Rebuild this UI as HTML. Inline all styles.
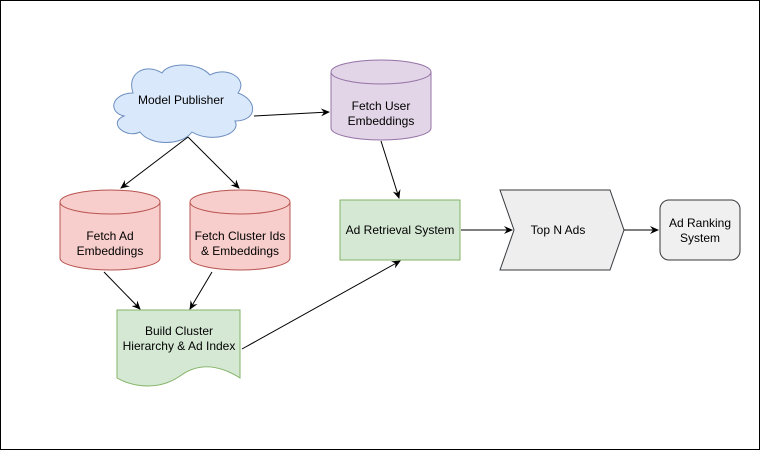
<!DOCTYPE html>
<html><head><style>body{margin:0;background:#fff}</style></head><body>
<svg width="761" height="451" xmlns="http://www.w3.org/2000/svg" font-family="Liberation Sans, sans-serif" font-size="12">
<defs><marker id="a" markerWidth="10" markerHeight="10" refX="8" refY="5" orient="auto" markerUnits="userSpaceOnUse"><path d="M0,1 L9,5 L0,9 L3,5 Z" fill="#000"/></marker></defs>
<rect x="0.5" y="0.5" width="759" height="449" fill="#fff" stroke="#000"/>
<!-- cloud -->
<path d="M133,93 C112,93 107,112 124,116 C107,123 126,139 140,132 C150,146 182,146 192,132 C212,144 242,134 235,121 C258,121 258,100 238,93 C249,78 226,66 210,75 C199,62 168,62 162,73 C147,63 126,72 133,93 Z" fill="#dae8fc" stroke="#6c8ebf"/>
<text x="181" y="104" text-anchor="middle">Model Publisher</text>
<!-- user cylinder -->
<g fill="#e1d5e7" stroke="#9673a6"><path d="M331,72 V128 A50,12 0 0 0 431,128 V72"/><ellipse cx="381" cy="72" rx="50" ry="12"/></g>
<text x="381" y="110" text-anchor="middle">Fetch User</text><text x="381" y="125" text-anchor="middle">Embeddings</text>
<!-- red cylinders -->
<g fill="#f8cecc" stroke="#b85450"><path d="M60,202 V258 A50,12 0 0 0 160,258 V202"/><ellipse cx="110" cy="202" rx="50" ry="12"/>
<path d="M190,202 V258 A50,12 0 0 0 290,258 V202"/><ellipse cx="240" cy="202" rx="50" ry="12"/></g>
<text x="110" y="240" text-anchor="middle">Fetch Ad</text><text x="110" y="255" text-anchor="middle">Embeddings</text>
<text x="240" y="240" text-anchor="middle">Fetch Cluster Ids</text><text x="240" y="255" text-anchor="middle">&amp; Embeddings</text>
<!-- ad retrieval -->
<rect x="340" y="200" width="120" height="60" fill="#d5e8d4" stroke="#82b366"/>
<text x="400" y="234" text-anchor="middle">Ad Retrieval System</text>
<!-- top n -->
<path d="M500,190 H610 L624,230 L610,270 H500 L514,230 Z" fill="#eeeeee" stroke="#36393d"/>
<text x="558" y="234" text-anchor="middle">Top N Ads</text>
<!-- ranking -->
<rect x="660" y="200" width="80" height="60" rx="9" fill="#f0f0f0" stroke="#36393d"/>
<text x="700" y="227" text-anchor="middle">Ad Ranking</text><text x="700" y="242" text-anchor="middle">System</text>
<!-- doc -->
<path d="M117,310 H240 V378 C215,362 195,365 180,376 C160,390 135,388 117,378 Z" fill="#d5e8d4" stroke="#82b366"/>
<text x="179" y="335" text-anchor="middle">Build Cluster</text><text x="179" y="350" text-anchor="middle">Hierarchy &amp; Ad Index</text>
<!-- arrows -->
<g stroke="#000" fill="none" marker-end="url(#a)">
<line x1="188" y1="137" x2="121" y2="188"/>
<line x1="188" y1="137" x2="239" y2="188"/>
<line x1="254" y1="116" x2="329" y2="112"/>
<line x1="381" y1="141" x2="399" y2="198"/>
<line x1="104" y1="272" x2="140" y2="309"/>
<line x1="212" y1="272" x2="190" y2="309"/>
<line x1="242" y1="349" x2="400" y2="261"/>
<line x1="461" y1="230" x2="512" y2="230"/>
<line x1="624" y1="230" x2="658" y2="230"/>
</g>
</svg>
</body></html>
